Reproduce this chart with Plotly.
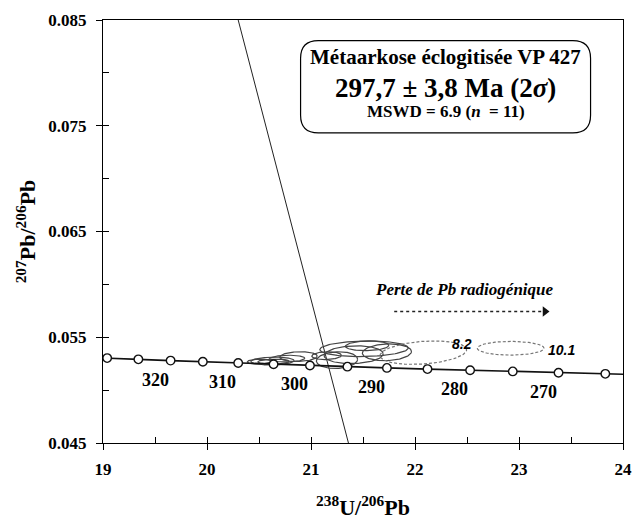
import numpy as np
import plotly.graph_objects as go

# ---------------- data ----------------
# Concordia tick points (age in Ma)
conc_age = [330, 325, 320, 315, 310, 305, 300, 295, 290, 285, 280, 275, 270, 265]
conc_x = [19.04, 19.34, 19.65, 19.96, 20.30, 20.64, 20.99, 21.35, 21.73, 22.12, 22.53, 22.94, 23.38, 23.83]
conc_y = [0.05303, 0.05291, 0.05279, 0.05268, 0.05256, 0.05245, 0.05233, 0.05222, 0.05210, 0.05199,
          0.05188, 0.05177, 0.05165, 0.05154]
conc_end_x = [19.0, 24.0]
conc_end_y = [0.05304, 0.05150]
label_ages = [320, 310, 300, 290, 280, 270]

# Solid error ellipses (centre, half extent in x and y, correlation)
ell_cx = [20.50, 20.63, 20.64, 20.77, 20.88, 21.15, 21.25, 21.41, 21.51, 21.54, 21.73]
ell_cy = [0.05270, 0.05275, 0.05270, 0.05298, 0.05317, 0.05326, 0.05284, 0.05335, 0.05391, 0.05419, 0.05358]
ell_sx = [0.113, 0.208, 0.151, 0.170, 0.180, 0.142, 0.198, 0.284, 0.425, 0.208, 0.236]
ell_sy = [0.00023, 0.00037, 0.00023, 0.00032, 0.00046, 0.00037, 0.00079, 0.00084, 0.00074, 0.00046, 0.00079]
ell_rho = [0.1, 0.1, 0.1, 0.1, 0.1, 0.1, 0.1, 0.1, 0.1, 0.1, 0.1]

# Dashed (excluded) ellipses with their labels
dash_cx = [22.08, 22.92]
dash_cy = [0.05354, 0.05396]
dash_sx = [0.416, 0.321]
dash_sy = [0.00111, 0.00065]
dash_rho = [0.25, 0.0]
dash_label = ["8.2", "10.1"]

# Discordia line end points
disc_x = [20.30, 21.36]
disc_y = [0.085, 0.045]

# Lead-loss arrow
arrow_x = [21.80, 23.25]
arrow_y = [0.05744, 0.05744]

# ---------------- geometry helpers ----------------
W, H = 643, 527
L, R, T, B = 103, 632, 15, 446   # plot area in pixels


def px2paper(px, py):
    return (px - L) / (R - L), (B - py) / (B - T)


def ellipse_path(cxs, cys, sxs, sys_, rhos):
    t = np.linspace(0, 2 * np.pi, 120)
    xs, ys = [], []
    for cx, cy, sx, sy, r in zip(cxs, cys, sxs, sys_, rhos):
        xs += list(cx + sx * np.cos(t)) + [None]
        ys += list(cy + sy * (r * np.cos(t) + np.sqrt(1 - r * r) * np.sin(t))) + [None]
    return xs, ys


fig = go.Figure()

# discordia
fig.add_trace(go.Scatter(x=disc_x, y=disc_y, mode="lines",
                         line=dict(color="#222", width=1), hoverinfo="skip", showlegend=False))

# solid ellipses
ex, ey = ellipse_path(ell_cx, ell_cy, ell_sx, ell_sy, ell_rho)
fig.add_trace(go.Scatter(x=ex, y=ey, mode="lines", line=dict(color="#444", width=1.2),
                         hoverinfo="skip", showlegend=False))

# dashed ellipses
dx, dy = ellipse_path(dash_cx, dash_cy, dash_sx, dash_sy, dash_rho)
fig.add_trace(go.Scatter(x=dx, y=dy, mode="lines", line=dict(color="#777", width=1.2, dash="3px,2px"),
                         hoverinfo="skip", showlegend=False))

# concordia line
line_x = [conc_end_x[0]] + conc_x + [conc_end_x[1]]
line_y = [conc_end_y[0]] + conc_y + [conc_end_y[1]]
fig.add_trace(go.Scatter(x=line_x, y=line_y, mode="lines", line=dict(color="#111", width=1.7),
                         hoverinfo="skip", showlegend=False))
fig.add_trace(go.Scatter(x=conc_x, y=conc_y, mode="markers",
                         marker=dict(symbol="circle", size=8.5, color="white",
                                     line=dict(color="#111", width=1.4)),
                         hoverinfo="skip", showlegend=False, cliponaxis=False))

# arrow
fig.add_trace(go.Scatter(x=arrow_x, y=arrow_y, mode="lines", line=dict(color="#222", width=1.5, dash="dot"),
                         hoverinfo="skip", showlegend=False))
fig.add_trace(go.Scatter(x=[arrow_x[1]], y=[arrow_y[1]], mode="markers",
                         marker=dict(symbol="triangle-right", size=9, color="#111"),
                         hoverinfo="skip", showlegend=False))

# dummy trace for overlay axes (inner half of major ticks)
fig.add_trace(go.Scatter(x=[None], y=[None], xaxis="x2", yaxis="y2", showlegend=False, hoverinfo="skip"))

serif = "Liberation Serif"
ann = []
# age labels
for a in label_ages:
    i = conc_age.index(a)
    ann.append(dict(x=conc_x[i], y=conc_y[i], xref="x", yref="y", text=str(a), showarrow=False,
                    xanchor="right", yanchor="middle", xshift=0, yshift=-19,
                    font=dict(family=serif, size=18, color="black", weight="bold")))
# dashed ellipse labels
for cx, cy, sx, lab in zip(dash_cx, dash_cy, dash_sx, dash_label):
    ann.append(dict(x=cx + sx, y=cy, xref="x", yref="y", text=f"<i>{lab}</i>", showarrow=False,
                    xanchor="center", yanchor="middle", xshift=-5 if lab == "8.2" else 17,
                    yshift=9 if lab == "8.2" else -2,
                    font=dict(family="Liberation Sans", size=14, color="black", weight="bold")))
# arrow caption
ann.append(dict(x=22.48, y=arrow_y[0], xref="x", yref="y",
                text="<i>Perte de Pb radiogénique</i>", showarrow=False, yshift=22,
                font=dict(family=serif, size=17, color="black", weight="bold")))

# text box
bx0, bx1, by0, by1, rad = 304, 599, 36, 130, 18
cxp = (bx0 + bx1) / 2
for txt, py, sz in [("Métaarkose éclogitisée VP 427", 53, 21),
                    ("297,7 ± 3,8 Ma (2<i>σ</i>)", 84, 27),
                    ("MSWD = 6.9 (<i>n</i>  = 11)", 108, 17)]:
    xp, yp = px2paper(cxp, py)
    ann.append(dict(x=xp, y=yp, xref="paper", yref="paper", text=txt, showarrow=False,
                    xanchor="center", yanchor="middle",
                    font=dict(family=serif, size=sz, color="black", weight="bold")))


def rounded_rect(x0, y0, x1, y1, r):
    def P(px, py):
        a, b = px2paper(px, py)
        return f"{a:.5f},{b:.5f}"
    p = f"M {P(x0 + r, y0)} L {P(x1 - r, y0)} Q {P(x1, y0)} {P(x1, y0 + r)} "
    p += f"L {P(x1, y1 - r)} Q {P(x1, y1)} {P(x1 - r, y1)} "
    p += f"L {P(x0 + r, y1)} Q {P(x0, y1)} {P(x0, y1 - r)} "
    p += f"L {P(x0, y0 + r)} Q {P(x0, y0)} {P(x0 + r, y0)} Z"
    return p


shapes = [dict(type="path", xref="paper", yref="paper", path=rounded_rect(bx0, by0, bx1, by1, rad),
               line=dict(color="black", width=1.2), fillcolor="white", layer="above")]

axis_common = dict(showline=True, linecolor="black", linewidth=1.3, mirror=True,
                   showgrid=False, zeroline=False, ticks="outside", ticklen=6, tickwidth=1.2,
                   tickcolor="black", ticklabeloverflow="allow")
fig.update_layout(
    width=W, height=H,
    margin=dict(l=L, r=W - R, t=T, b=H - B),
    paper_bgcolor="white", plot_bgcolor="white",
    font=dict(family=serif, color="black"),
    xaxis=dict(range=[19, 24], tickvals=[19, 20, 21, 22, 23, 24], **axis_common,
               tickfont=dict(family=serif, size=17, weight="bold"), ticklabelstandoff=4,
               minor=dict(ticks="inside", ticklen=6, tickvals=[19.5, 20.5, 21.5, 22.5, 23.5],
                          tickcolor="black", tickwidth=1.2),
               title=dict(text="<sup>238</sup>U/<sup>206</sup>Pb", standoff=22,
                          font=dict(family=serif, size=22, weight="bold"))),
    yaxis=dict(range=[0.045, 0.085], tickvals=[0.045, 0.055, 0.065, 0.075, 0.085],
               ticktext=["0.045", "0.055", "0.065", "0.075", "0.085"], **axis_common,
               tickfont=dict(family=serif, size=17, weight="bold"), ticklabelstandoff=6,
               minor=dict(ticks="inside", ticklen=6, tickvals=[0.05, 0.06, 0.07, 0.08],
                          tickcolor="black", tickwidth=1.2),
               title=dict(text="<sup>207</sup>Pb/<sup>206</sup>Pb", standoff=6,
                          font=dict(family=serif, size=22, weight="bold"))),
    xaxis2=dict(overlaying="x", anchor="y2", range=[19, 24], tickvals=[19, 20, 21, 22, 23, 24],
                ticks="inside", ticklen=6,
                tickwidth=1.2, tickcolor="black", showticklabels=False, showline=False, showgrid=False,
                zeroline=False),
    yaxis2=dict(overlaying="y", anchor="x2", range=[0.045, 0.085], tickvals=[0.045, 0.055, 0.065, 0.075, 0.085],
                ticks="inside", ticklen=6, tickwidth=1.2, tickcolor="black", showticklabels=False,
                showline=False, showgrid=False, zeroline=False, side="left"),
    annotations=ann, shapes=shapes, showlegend=False,
)

fig.write_html("out.html", config={"displayModeBar": False},
               post_script="document.body.style.margin='0';document.body.style.overflow='hidden';")
